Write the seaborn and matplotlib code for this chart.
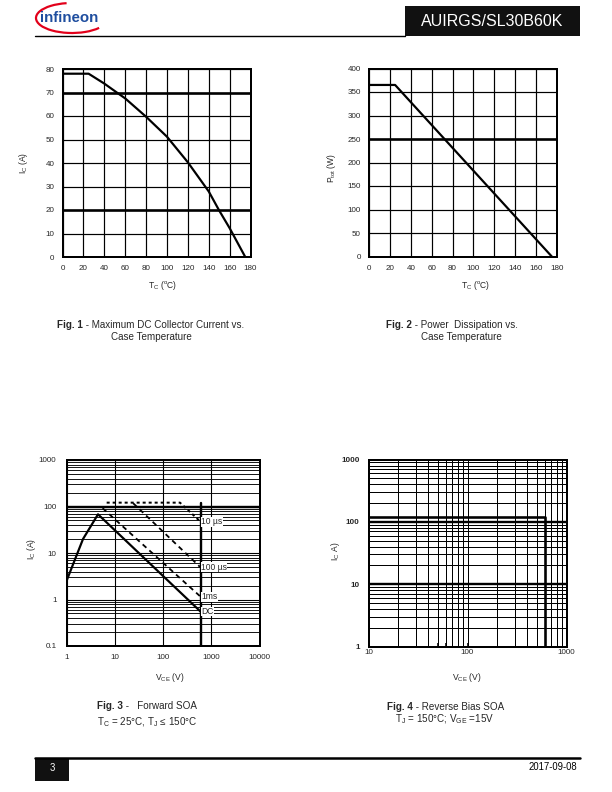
import numpy as np
import pandas as pd
import matplotlib
matplotlib.use("Agg")
import matplotlib.pyplot as plt
import seaborn as sns
from matplotlib.ticker import LogLocator, NullFormatter, FixedLocator
from matplotlib.patches import Rectangle, Arc

# ---------------- data ----------------
fig1_tc = [0, 25, 40, 52, 60, 80, 100, 120, 140, 150, 160, 175]
fig1_ic = [78, 78, 73.8, 70, 67.5, 59.7, 51.2, 40.3, 27.9, 19.8, 12.3, 0]
fig1_xticks = [0, 20, 40, 60, 80, 100, 120, 140, 160, 180]
fig1_yticks = [0, 10, 20, 30, 40, 50, 60, 70, 80]
fig1_thick = [20, 70]
fig1_stubs = [30, 50]

fig2_tc = [0, 25, 175]
fig2_ptot = [365, 365, 0]
fig2_xticks = [0, 20, 40, 60, 80, 100, 120, 140, 160, 180]
fig2_yticks = [0, 50, 100, 150, 200, 250, 300, 350, 400]
fig2_thick = [250]
fig2_stubs = [50, 150, 300]

fig3_dc_v = [1, 2.2, 4.5, 600]
fig3_dc_i = [2.5, 20, 68, 0.55]
fig3_1ms_v = [5.6, 600]
fig3_1ms_i = [92, 1.15]
fig3_100us_v = [24, 600]
fig3_100us_i = [118, 4.9]
fig3_10us_v = [6.8, 225, 600]
fig3_10us_i = [121, 121, 47]
fig3_limit_v = [600, 600]
fig3_limit_i = [0.1, 121]
fig3_labels = ["10 µs", "100 µs", "1ms", "DC"]
fig3_label_i = [47, 4.9, 1.15, 0.55]
fig3_xticks = [1, 10, 100, 1000, 10000]
fig3_xticklabels = ["1", "10", "100", "1000", "10000"]
fig3_yticks = [0.1, 1, 10, 100, 1000]
fig3_yticklabels = ["0.1", "1", "10", "100", "1000"]
fig3_thick = [100]

fig4_v = [10, 600, 600]
fig4_i = [120, 120, 1]
fig4_xticks = [10, 100, 1000]
fig4_xticklabels = ["10", "100", "1000"]
fig4_yticks = [1, 10, 100, 1000]
fig4_yticklabels = ["1", "10", "100", "1000"]
fig4_thick = [10, 100]
fig4_stubs = [50, 60, 100, 1000]

# ---------------- style ----------------
sns.set_style("white")
plt.rcParams["font.family"] = ["Liberation Sans", "DejaVu Sans"]
plt.rcParams["mathtext.fontset"] = "custom"
plt.rcParams["mathtext.rm"] = "Liberation Sans"
plt.rcParams["mathtext.it"] = "Liberation Sans:italic"
plt.rcParams["mathtext.bf"] = "Liberation Sans:bold"
plt.rcParams["lines.scale_dashes"] = False

W, H = 612, 792
fig = plt.figure(figsize=(W / 72, H / 72), dpi=72)


def rect(l, t, r, b):
    return [l / W, 1 - b / H, (r - l) / W, (b - t) / H]


over = fig.add_axes([0, 0, 1, 1], zorder=-5)
over.set_xlim(0, W)
over.set_ylim(H, 0)
over.axis("off")

TICK_FS = 8
LAB_FS = 8.5
CAP_FS = 9.9


def style_axes(ax, lw=2.0):
    for s in ax.spines.values():
        s.set_visible(True)
        s.set_color("black")
        s.set_linewidth(lw)
    ax.set_xlabel("")
    ax.set_ylabel("")


# ---------------- Fig 1 ----------------
ax1 = fig.add_axes(rect(62.5, 69, 250.5, 257))
df1 = pd.DataFrame({"Tc": fig1_tc, "Ic": fig1_ic})
sns.lineplot(data=df1, x="Tc", y="Ic", ax=ax1, color="black", lw=2.2,
             sort=False, estimator=None, zorder=5)
ax1.set_xlim(0, 180)
ax1.set_ylim(0, 80)
ax1.set_xticks(fig1_xticks)
ax1.set_yticks(fig1_yticks)
ax1.grid(True, color="black", lw=1.2)
for v in fig1_thick:
    ax1.axhline(v, color="black", lw=2.6, zorder=3)
ax1.yaxis.set_minor_locator(FixedLocator(fig1_stubs))
ax1.tick_params(which="major", length=0, labelsize=TICK_FS, pad=8)
ax1.tick_params(which="minor", axis="y", left=True, direction="in",
                length=8, width=2, color="black")
style_axes(ax1)

# ---------------- Fig 2 ----------------
ax2 = fig.add_axes(rect(369, 68.5, 557, 256.5))
df2 = pd.DataFrame({"Tc": fig2_tc, "Ptot": fig2_ptot})
sns.lineplot(data=df2, x="Tc", y="Ptot", ax=ax2, color="black", lw=2.2,
             sort=False, estimator=None, zorder=5)
ax2.set_xlim(0, 180)
ax2.set_ylim(0, 400)
ax2.set_xticks(fig2_xticks)
ax2.set_yticks(fig2_yticks)
ax2.grid(True, color="black", lw=1.2)
for v in fig2_thick:
    ax2.axhline(v, color="black", lw=2.6, zorder=3)
ax2.yaxis.set_minor_locator(FixedLocator(fig2_stubs))
ax2.tick_params(which="major", length=0, labelsize=TICK_FS, pad=8)
ax2.tick_params(which="minor", axis="y", left=True, direction="in",
                length=8, width=2, color="black")
style_axes(ax2)

# ---------------- Fig 3 ----------------
ax3 = fig.add_axes(rect(66.5, 460, 259.5, 646))
ax3.set_xscale("log")
ax3.set_yscale("log")
series3 = [
    (fig3_dc_v, fig3_dc_i, "-", 2.2),
    (fig3_1ms_v, fig3_1ms_i, (0, (5, 4)), 1.8),
    (fig3_100us_v, fig3_100us_i, (0, (5, 4)), 1.8),
    (fig3_10us_v, fig3_10us_i, (0, (3, 3)), 2.0),
    (fig3_limit_v, fig3_limit_i, "-", 2.4),
]
for xs, ys, ls, lw in series3:
    sns.lineplot(x=xs, y=ys, ax=ax3, color="black", lw=lw, linestyle=ls,
                 sort=False, estimator=None, zorder=5)
ax3.set_xlim(1, 10000)
ax3.set_ylim(0.1, 1000)
ax3.set_xticks(fig3_xticks, labels=fig3_xticklabels)
ax3.set_yticks(fig3_yticks, labels=fig3_yticklabels)
ax3.yaxis.set_minor_locator(LogLocator(base=10, subs=np.arange(2, 10)))
ax3.yaxis.set_minor_formatter(NullFormatter())
ax3.xaxis.set_minor_locator(FixedLocator([]))
ax3.grid(True, which="major", color="black", lw=1.1)
ax3.grid(True, which="minor", axis="y", color="black", lw=0.9)
for v in fig3_thick:
    ax3.axhline(v, color="black", lw=2.4, zorder=3)
ax3.tick_params(which="both", length=0, labelsize=TICK_FS)
ax3.tick_params(axis="y", pad=10)
ax3.tick_params(axis="x", pad=8)
for lab, yv in zip(fig3_labels, fig3_label_i):
    ax3.text(fig3_limit_v[0] * 1.02, yv, lab, fontsize=8.5, ha="left",
             va="center", zorder=6,
             bbox=dict(facecolor="white", edgecolor="none", pad=0.4))
style_axes(ax3)

# ---------------- Fig 4 ----------------
ax4 = fig.add_axes(rect(368.5, 459.5, 566.5, 646.5))
ax4.set_xscale("log")
ax4.set_yscale("log")
df4 = pd.DataFrame({"Vce": fig4_v, "Ic": fig4_i})
sns.lineplot(data=df4, x="Vce", y="Ic", ax=ax4, color="black", lw=2.6,
             sort=False, estimator=None, zorder=5)
ax4.set_xlim(10, 1000)
ax4.set_ylim(1, 1000)
ax4.set_xticks(fig4_xticks, labels=fig4_xticklabels)
ax4.set_yticks(fig4_yticks, labels=fig4_yticklabels)
for axis in (ax4.xaxis, ax4.yaxis):
    axis.set_minor_locator(LogLocator(base=10, subs=np.arange(2, 10)))
    axis.set_minor_formatter(NullFormatter())
ax4.grid(True, which="both", color="black", lw=1.0)
for v in fig4_thick:
    ax4.axhline(v, color="black", lw=2.4, zorder=3)
ax4.tick_params(which="both", length=0, labelsize=TICK_FS)
ax4.tick_params(axis="y", pad=9)
ax4.tick_params(axis="x", pad=2)
for t in ax4.get_yticklabels():
    t.set_fontweight("bold")
sec = ax4.secondary_xaxis("bottom")
sec.set_xticks(fig4_stubs, labels=[""] * len(fig4_stubs))
sec.xaxis.set_minor_locator(FixedLocator([]))
sec.tick_params(direction="in", length=4, width=1.6, color="black")
style_axes(ax4)

# ---------------- axis labels ----------------
over.text(23, 163, r"I$_{\rm C}$ (A)", rotation=90, ha="center", va="center", fontsize=LAB_FS)
over.text(163, 285, r"T$_{\rm C}$ ($^{\rm o}$C)", ha="center", va="center", fontsize=LAB_FS)
over.text(331, 168, r"P$_{\rm tot}$ (W)", rotation=90, ha="center", va="center", fontsize=LAB_FS)
over.text(476, 285, r"T$_{\rm C}$ ($^{\rm o}$C)", ha="center", va="center", fontsize=LAB_FS)
over.text(32, 549, r"I$_{\rm C}$ (A)", rotation=90, ha="center", va="center", fontsize=LAB_FS)
over.text(170, 677, r"V$_{\rm CE}$ (V)", ha="center", va="center", fontsize=LAB_FS)
over.text(335, 551, r"I$_{\rm C}$ A)", rotation=90, ha="center", va="center", fontsize=LAB_FS)
over.text(467, 678, r"V$_{\rm CE}$ (V)", ha="center", va="center", fontsize=LAB_FS)

# ---------------- captions ----------------
renderer = fig.canvas.get_renderer()


def mixed(x, y, bold, rest, align="center", fs=CAP_FS):
    t1 = over.text(0, y, bold, fontweight="bold", fontsize=fs, ha="left", va="center")
    t2 = over.text(0, y, rest, fontsize=fs, ha="left", va="center")
    w1 = t1.get_window_extent(renderer).width
    w2 = t2.get_window_extent(renderer).width
    start = x - (w1 + w2) / 2 if align == "center" else x
    t1.set_x(start)
    t2.set_x(start + w1)


mixed(151, 325, "Fig. 1", " - Maximum DC Collector Current vs.")
over.text(151, 337, "Case Temperature", ha="center", va="center", fontsize=CAP_FS)
mixed(452, 325, "Fig. 2", " - Power  Dissipation vs.")
over.text(461, 337, "Case Temperature", ha="center", va="center", fontsize=CAP_FS)
mixed(97, 706, "Fig. 3", " -   Forward SOA", align="left")
over.text(97, 722, r"T$_{\rm C}$ = 25°C, T$_{\rm J}$ ≤ 150°C",
          ha="left", va="center", fontsize=CAP_FS)
mixed(446, 707, "Fig. 4", " - Reverse Bias SOA")
over.text(445, 719, r"T$_{\rm J}$ = 150°C; V$_{\rm GE}$ =15V",
          ha="center", va="center", fontsize=CAP_FS)

# ---------------- header ----------------
over.add_patch(Rectangle((405, 6), 175, 30, facecolor="#111111", edgecolor="none"))
over.text(421, 21.5, "AUIRGS/SL30B60K", color="white", fontsize=16,
          ha="left", va="center")
over.plot([35, 405], [36, 36], color="black", lw=1.4)
over.add_patch(Arc((72, 18), 72, 30, theta1=20, theta2=250,
                   color="#e2001a", lw=2.2))
over.text(40, 18, "infineon", color="#1f4e9f", fontsize=15, fontweight="bold",
          family=["Liberation Sans Narrow", "Liberation Sans"], ha="left", va="center")

# ---------------- footer ----------------
over.plot([35, 580], [758, 758], color="black", lw=2.5)
over.add_patch(Rectangle((35, 758), 34, 23, facecolor="#111111", edgecolor="none"))
over.text(52, 768, "3", color="white", fontsize=9.5, ha="center", va="center")
over.text(577, 767, "2017-09-08", color="black", fontsize=9.5, ha="right", va="center")

fig.savefig("out.png", dpi=72)
